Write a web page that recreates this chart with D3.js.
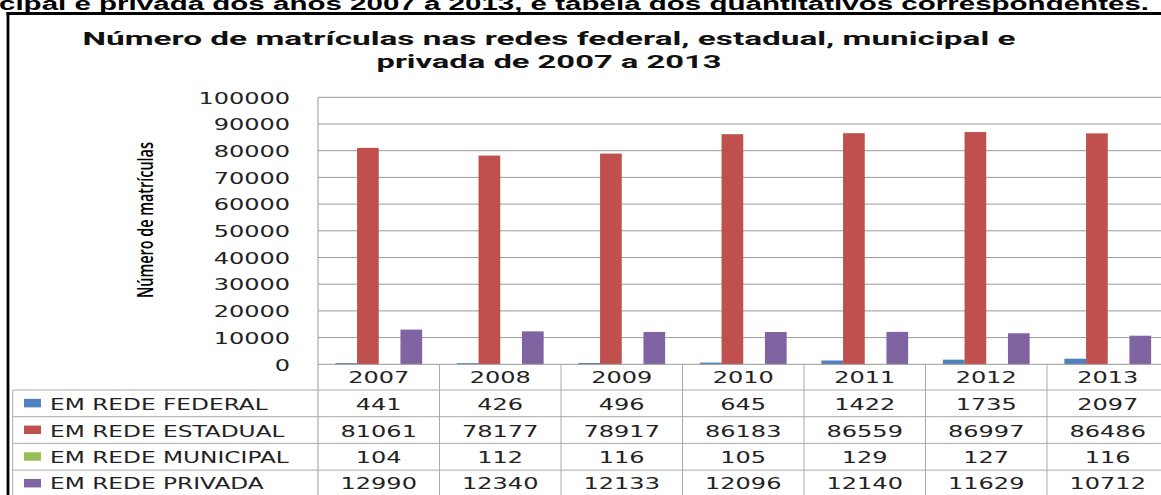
<!DOCTYPE html>
<html><head><meta charset="utf-8">
<script src="https://cdn.jsdelivr.net/npm/d3@7"></script>
<style>html,body{margin:0;padding:0;background:#fff;overflow:hidden}</style>
</head><body>
<svg id="c" width="1161" height="495"></svg>
<script>
const years = ["2007","2008","2009","2010","2011","2012","2013"];
const federal = [441,426,496,645,1422,1735,2097];
const estadual = [81061,78177,78917,86183,86559,86997,86486];
const municipal = [104,112,116,105,129,127,116];
const privada = [12990,12340,12133,12096,12140,11629,10712];
const seriesNames = ["EM REDE FEDERAL","EM REDE ESTADUAL","EM REDE MUNICIPAL","EM REDE PRIVADA"];
const seriesColors = ["#4F81BD","#C0504D","#9BBB59","#8064A2"];
const yTicks = [0,10000,20000,30000,40000,50000,60000,70000,80000,90000,100000];
const titleLines = ["Número de matrículas nas redes federal, estadual, municipal e","privada de 2007 a 2013"];
const yLabel = "Número de matrículas";
const heading = "cipal e privada dos anos 2007 a 2013, e tabela dos quantitativos correspondentes.";

const series = [federal, estadual, municipal, privada];
const svg = d3.select("#c");
const STRETCH = 1.5;
function stretch(sel, k){ sel.each(function(){ const w=this.getComputedTextLength(); d3.select(this).attr("textLength", w*k).attr("lengthAdjust","spacingAndGlyphs"); }); }

// heading (cropped at top in the source)
svg.append("text").attr("x",-1).attr("y",9.5).attr("font-family","Liberation Sans, Arial").attr("font-weight","bold")
  .attr("font-size",18).attr("fill","#000").attr("textLength",1150).attr("lengthAdjust","spacingAndGlyphs").text(heading);
// frame
svg.append("line").attr("x1",6.5).attr("x2",1161).attr("y1",13.5).attr("y2",13.5).attr("stroke","#000").attr("stroke-width",2.8);
svg.append("line").attr("x1",8).attr("x2",8).attr("y1",12).attr("y2",495).attr("stroke","#000").attr("stroke-width",2.8);

// title
const tl = [[549,45,933],[549,68,345]];
titleLines.forEach((t,i)=>{
  svg.append("text").attr("x",tl[i][0]).attr("y",tl[i][1]).attr("text-anchor","middle")
    .attr("font-family","Roboto").attr("font-weight",700).attr("font-size",19).attr("fill","#111")
    .attr("textLength",tl[i][2]).attr("lengthAdjust","spacingAndGlyphs").text(t);
});

const x0 = 318, step = 121.5;
const x = d3.scaleBand().domain(years).range([x0, x0+step*years.length]).paddingInner(0).paddingOuter(0);
const xs = d3.scaleBand().domain(d3.range(4)).range([0, x.bandwidth()]).paddingInner(0).paddingOuter(0.8);
const y = d3.scaleLinear().domain([0,100000]).range([364.3, 97.3]);

// gridlines
svg.append("g").selectAll("line").data(yTicks.filter(d=>d>0)).join("line")
  .attr("x1",x0).attr("x2",1161).attr("y1",d=>y(d)).attr("y2",d=>y(d)).attr("stroke","#9a9a9a").attr("stroke-width",1);

// y axis
const yAxis = svg.append("g").attr("transform",`translate(290,0)`)
  .call(d3.axisLeft(y).tickValues(yTicks).tickSize(0).tickPadding(0).tickFormat(d3.format("d")));
yAxis.select(".domain").remove();
yAxis.selectAll("text").attr("font-family","DejaVu Sans").attr("font-size",16).attr("fill","#222").attr("dy","0.36em");
stretch(yAxis.selectAll("text"), STRETCH);

// y label
svg.append("text").attr("transform","translate(153,220) rotate(-90)").attr("text-anchor","middle")
  .attr("font-family","Open Sans").attr("font-weight",600).attr("font-size",21).attr("fill","#000")
  .attr("textLength",156).attr("lengthAdjust","spacingAndGlyphs").text(yLabel);

// bars
series.forEach((vals,si)=>{
  svg.append("g").selectAll("rect").data(vals).join("rect")
    .attr("x",(d,i)=>x(years[i])+xs(si)).attr("width",xs.bandwidth())
    .attr("y",d=>y(d)).attr("height",d=>y(0)-y(d)).attr("fill",seriesColors[si]);
});

// axis vertical line & zero line
svg.append("line").attr("x1",x0).attr("x2",x0).attr("y1",y(100000)).attr("y2",495).attr("stroke","#9a9a9a");
svg.append("line").attr("x1",x0).attr("x2",1161).attr("y1",y(0)).attr("y2",y(0)).attr("stroke","#9a9a9a");

// data table
const rowTop = 390, rowH = 26.7, tableLeft = 12.7;
const tcol = "#aaaaaa";
const tg = svg.append("g");
d3.range(4).forEach(r=>{
  tg.append("line").attr("x1",tableLeft).attr("x2",1161).attr("y1",rowTop+r*rowH).attr("y2",rowTop+r*rowH).attr("stroke",tcol);
});
tg.append("line").attr("x1",tableLeft).attr("x2",tableLeft).attr("y1",rowTop).attr("y2",495).attr("stroke",tcol);
tg.selectAll("line.col").data(years.slice(1)).join("line").attr("class","col")
  .attr("x1",d=>x(d)).attr("x2",d=>x(d)).attr("y1",y(0)).attr("y2",495).attr("stroke",tcol);

// year labels
const yl = tg.selectAll("text.yr").data(years).join("text").attr("class","yr")
  .attr("x",d=>x(d)+x.bandwidth()/2).attr("y",383.3).attr("text-anchor","middle")
  .attr("font-family","DejaVu Sans").attr("font-size",16).attr("fill","#222").text(d=>d);
stretch(yl, STRETCH);

const baselines = [410, 436.7, 463.3, 488.5];
series.forEach((vals,si)=>{
  tg.append("rect").attr("x",24).attr("width",17).attr("y",rowTop+si*rowH+rowH/2-4.5).attr("height",8.5).attr("fill",seriesColors[si]);
  const lab = tg.append("text").attr("x",50).attr("y",baselines[si]).attr("font-family","DejaVu Sans")
    .attr("font-size",15.5).attr("fill","#222").text(seriesNames[si]);
  stretch(lab, STRETCH);
  const vt = tg.append("g").selectAll("text").data(vals).join("text")
    .attr("x",(d,i)=>x(years[i])+x.bandwidth()/2).attr("y",baselines[si]).attr("text-anchor","middle")
    .attr("font-family","DejaVu Sans").attr("font-size",16).attr("fill","#222").text(d=>d);
  stretch(vt, STRETCH);
});
</script>
</body></html>
